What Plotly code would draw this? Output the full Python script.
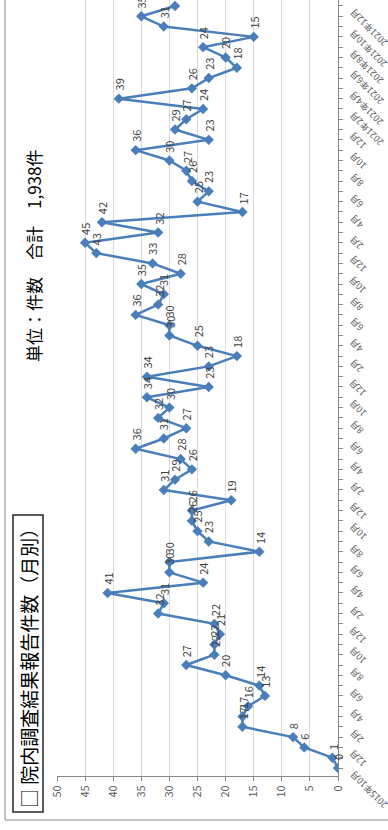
import plotly.graph_objects as go

months = [
    "2015年10月", "2015年11月", "2015年12月",
    "2016年1月", "2016年2月", "2016年3月", "2016年4月", "2016年5月", "2016年6月",
    "2016年7月", "2016年8月", "2016年9月", "2016年10月", "2016年11月", "2016年12月",
    "2017年1月", "2017年2月", "2017年3月", "2017年4月", "2017年5月", "2017年6月",
    "2017年7月", "2017年8月", "2017年9月", "2017年10月", "2017年11月", "2017年12月",
    "2018年1月", "2018年2月", "2018年3月", "2018年4月", "2018年5月", "2018年6月",
    "2018年7月", "2018年8月", "2018年9月", "2018年10月", "2018年11月", "2018年12月",
    "2019年1月", "2019年2月", "2019年3月", "2019年4月", "2019年5月", "2019年6月",
    "2019年7月", "2019年8月", "2019年9月", "2019年10月", "2019年11月", "2019年12月",
    "2020年1月", "2020年2月", "2020年3月", "2020年4月", "2020年5月", "2020年6月",
    "2020年7月", "2020年8月", "2020年9月", "2020年10月", "2020年11月", "2020年12月",
    "2021年1月", "2021年2月", "2021年3月", "2021年4月", "2021年5月", "2021年6月",
    "2021年7月", "2021年8月", "2021年9月", "2021年10月", "2021年11月", "2021年12月",
]

counts = [
    0, 1, 6,
    8, 17, 17, 16, 13, 14, 20, 27, 22, 22, 21, 22,
    32, 31, 41, 24, 30, 30, 14, 23, 25, 26, 26, 19,
    31, 29, 26, 28, 36, 31, 27, 32, 30, 34, 23, 34,
    23, 18, 25, 30, 30, 36, 32, 31, 35, 28, 33, 43,
    45, 32, 42, 17, 25, 23, 26, 27, 30, 36, 23, 29,
    27, 24, 39, 26, 23, 18, 20, 24, 15, 31, 35, 29,
]

tick_labels = [
    "2015年10月", "12月",
    "2月", "4月", "6月", "8月", "10月", "12月",
    "2月", "4月", "6月", "8月", "10月", "12月",
    "2月", "4月", "6月", "8月", "10月", "12月",
    "2月", "4月", "6月", "8月", "10月", "12月",
    "2月", "4月", "6月", "8月", "10月", "12月",
    "2021年2月", "2021年4月", "2021年6月", "2021年8月", "2021年10月", "2021年12月",
]

value_ticks = [0, 5, 10, 15, 20, 25, 30, 35, 40, 45, 50]

title_text = "□ 院内調査結果報告件数（月別）"
unit_text = "単位：件数　合計　1,938件"

FONT = "Noto Sans CJK JP"
BLUE = "#4A7EBB"

fig = go.Figure()
fig.add_trace(go.Scatter(
    x=counts, y=months, mode="lines+markers",
    line=dict(color=BLUE, width=2.5),
    marker=dict(symbol="diamond", size=8, color=BLUE),
    hoverinfo="skip", showlegend=False,
))

annotations = []
# data labels
for m, c in zip(months, counts):
    annotations.append(dict(
        x=c, y=m, xref="x", yref="y", text=str(c), showarrow=False,
        textangle=-90, xanchor="center", yanchor="bottom", yshift=6,
        font=dict(family=FONT, size=11, color="#404040"),
    ))

# month axis labels (every second month), rotated like the reference
for m, lab in zip(months[::2], tick_labels):
    annotations.append(dict(
        x=1, y=m, xref="paper", yref="y", text=lab, showarrow=False,
        textangle=-135, xanchor="left", yanchor="top", xshift=6, yshift=3,
        font=dict(family=FONT, size=9, color="#595959"),
    ))

# plot area: x 57..338 px, y 0..776 px
def px_x(p):
    return (p - 57) / 281.0

def px_y(p):
    return (776 - p) / 776.0

annotations.append(dict(
    x=px_x(28), y=px_y(664), xref="paper", yref="paper", text=title_text,
    showarrow=False, textangle=-90, xanchor="center", yanchor="middle",
    font=dict(family=FONT, size=19, color="#000000"),
))
annotations.append(dict(
    x=px_x(33), y=px_y(256), xref="paper", yref="paper", text=unit_text,
    showarrow=False, textangle=-90, xanchor="center", yanchor="middle",
    font=dict(family=FONT, size=17, color="#000000"),
))

shapes = [
    dict(type="rect", xref="paper", yref="paper",
         x0=px_x(5), x1=px_x(400), y0=px_y(820), y1=px_y(-10),
         line=dict(color="#868686", width=1), layer="below"),
    dict(type="rect", xref="paper", yref="paper",
         x0=px_x(13), x1=px_x(43), y0=px_y(812), y1=px_y(515),
         line=dict(color="#262626", width=1.5), layer="above"),
]

fig.update_layout(
    width=388, height=830,
    margin=dict(l=57, r=50, t=0, b=54),
    paper_bgcolor="white", plot_bgcolor="white",
    font=dict(family=FONT, color="#595959"),
    annotations=annotations, shapes=shapes,
    xaxis=dict(
        range=[50, 0], tickvals=value_ticks, tickangle=-90,
        showgrid=True, gridcolor="#D9D9D9", gridwidth=1,
        showline=True, linecolor="#868686", linewidth=1,
        ticks="outside", ticklen=4, tickcolor="#868686",
        tickfont=dict(family=FONT, size=11, color="#595959"),
        zeroline=False,
    ),
    yaxis=dict(
        type="category", categoryarray=months,
        range=[-0.777, 74.58], side="right",
        tickvals=months, showticklabels=False,
        showgrid=False, showline=True, linecolor="#868686", linewidth=1,
        ticks="outside", ticklen=4, tickcolor="#868686",
        zeroline=False,
    ),
)

fig.write_html("out.html")
